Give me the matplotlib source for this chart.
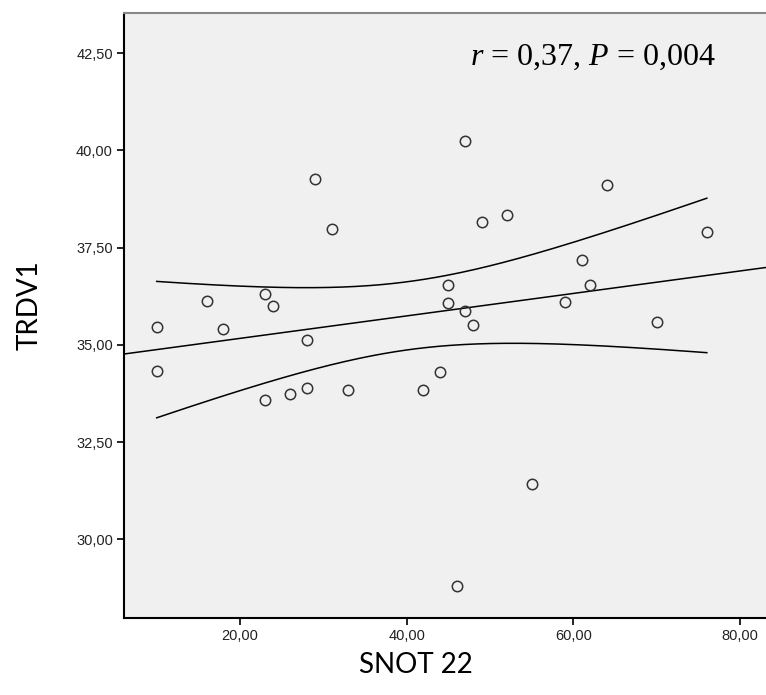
import matplotlib.pyplot as plt
import numpy as np

plt.rcParams['mathtext.fontset'] = 'custom'
plt.rcParams['mathtext.rm'] = 'Liberation Serif'
plt.rcParams['mathtext.it'] = 'Liberation Serif:italic'

# SNOT 22 scores and TRDV1 values
snot22 = [10, 10, 16, 18, 23, 23, 24, 26, 28, 28, 29, 31, 33, 42, 44,
          45, 45, 46, 47, 47, 48, 49, 52, 55, 59, 61, 62, 64, 70, 76]
trdv1 = [35.45, 34.34, 36.13, 35.42, 36.32, 33.59, 35.99, 33.75, 35.13, 33.89,
         39.27, 37.97, 33.83, 33.85, 34.29, 36.54, 36.08, 28.80, 40.24, 35.88,
         35.51, 38.16, 38.35, 31.43, 36.11, 37.18, 36.55, 39.12, 35.60, 37.89]

x_ticks = [20, 40, 60, 80]
y_ticks = [30, 32.5, 35, 37.5, 40, 42.5]

x = np.array(snot22, dtype=float)
y = np.array(trdv1, dtype=float)

# linear fit + 95% CI of the mean
b, a = np.polyfit(x, y, 1)
n = len(x)
resid = y - (a + b * x)
s = np.sqrt(np.sum(resid ** 2) / (n - 2))
tval = 2.048  # t(0.975, df=28)
xc = np.linspace(x.min(), x.max(), 200)
se = s * np.sqrt(1 / n + (xc - x.mean()) ** 2 / np.sum((x - x.mean()) ** 2))

fig = plt.figure(figsize=(7.66, 6.95), dpi=100)
ax = fig.add_axes([0.1619, 0.1108, 0.8381, 0.8705])
ax.set_facecolor('#f0f0f0')

xl = np.array([6.08, 83.1])
ax.plot(xl, a + b * xl, color='black', linewidth=1.1)
ax.plot(xc, a + b * xc + tval * se, color='black', linewidth=1.1)
ax.plot(xc, a + b * xc - tval * se, color='black', linewidth=1.1)

ax.plot(x, y, 'o', markerfacecolor='none', markeredgecolor='#333333',
        markersize=7.5, markeredgewidth=1.1)

ax.set_xlim(6.08, 83.1)
ax.set_ylim(27.98, 43.53)
ax.set_xticks(x_ticks)
ax.set_xticklabels(['%.2f' % v for v in x_ticks])
ax.set_yticks(y_ticks)
ax.set_yticklabels([('%.2f' % v).replace('.', ',') for v in y_ticks])
ax.set_xticklabels([('%.2f' % v).replace('.', ',') for v in x_ticks])
ax.tick_params(direction='out', length=5, width=1.2, labelsize=10.5,
               labelcolor='#222222', pad=3)
for lab in ax.get_xticklabels() + ax.get_yticklabels():
    lab.set_family('Liberation Sans')

ax.spines['right'].set_visible(False)
ax.spines['top'].set_color('#888888')
ax.spines['top'].set_linewidth(1.5)
ax.spines['left'].set_linewidth(1.5)
ax.spines['bottom'].set_linewidth(1.5)

ax.text(470 / 766, 1 - 65 / 695, r'$r$ = 0,37, $P$ = 0,004', transform=fig.transFigure,
        family='Liberation Serif', fontsize=23, ha='left', va='baseline')

fig.text(416 / 766, 1 - 665 / 695, 'SNOT 22', family='Lato', fontsize=20,
         ha='center', va='center')
fig.text(30 / 766, 1 - 305 / 695, 'TRDV1', family='Lato', fontsize=20,
         ha='center', va='center', rotation=90)

fig.savefig('out.png', dpi=100)
